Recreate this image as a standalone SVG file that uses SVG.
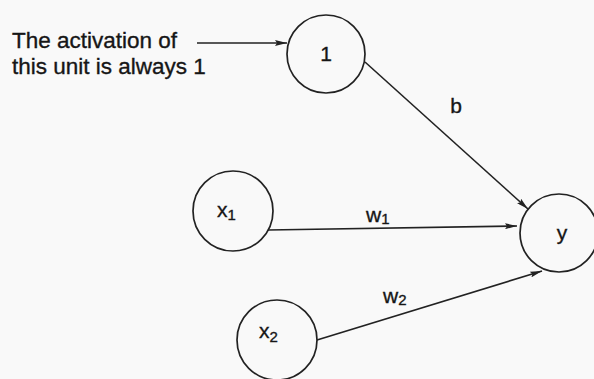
<svg xmlns="http://www.w3.org/2000/svg" width="594" height="379" viewBox="0 0 594 379">
<defs>
<marker id="ah" viewBox="0 0 12 6" refX="12" refY="3" markerWidth="12" markerHeight="6" markerUnits="userSpaceOnUse" orient="auto">
<path d="M0,0 L12,3 L0,6 L2,3 Z" fill="#222"/>
</marker>
</defs>
<style>
.n{fill:none;stroke:#222;stroke-width:1.7}
.e{fill:none;stroke:#222;stroke-width:1.6;marker-end:url(#ah)}
text{font-family:"Liberation Sans",Arial,sans-serif;fill:#161616;stroke:#161616;stroke-width:0.35}
.lb{font-size:21px}
.sb{font-size:15px}
.note{font-size:22.5px}
</style>
<rect width="594" height="379" fill="#f9f9f9"/>
<g id="connectors">
<line class="e" x1="197" y1="43" x2="287" y2="43"/>
<line class="e" x1="365" y1="62" x2="528" y2="209"/>
<line class="e" x1="268" y1="230" x2="517" y2="226"/>
<line class="e" x1="317" y1="340" x2="542" y2="271"/>
</g>
<g id="note">
<text class="note" x="12" y="48">The activation of</text>
<text class="note" x="12" y="74">this unit is always 1</text>
</g>
<g id="node-1">
<circle class="n" cx="326" cy="54" r="39"/>
<text class="lb" x="326" y="61" text-anchor="middle">1</text>
</g>
<g id="node-x1">
<circle class="n" cx="233" cy="211" r="40"/>
<text class="lb" x="217" y="217">x<tspan class="sb" dy="3">1</tspan></text>
</g>
<g id="node-x2">
<circle class="n" cx="277" cy="340" r="40"/>
<text class="lb" x="259" y="338">x<tspan class="sb" dy="4">2</tspan></text>
</g>
<g id="node-y">
<circle class="n" cx="559" cy="233" r="39"/>
<text class="lb" x="562" y="240" text-anchor="middle">y</text>
</g>
<g id="labels">
<text class="lb" x="456" y="113" text-anchor="middle">b</text>
<text class="lb" x="366" y="222">w<tspan class="sb" dy="2">1</tspan></text>
<text class="lb" x="383" y="303">w<tspan class="sb" dy="2">2</tspan></text>
</g>
</svg>
